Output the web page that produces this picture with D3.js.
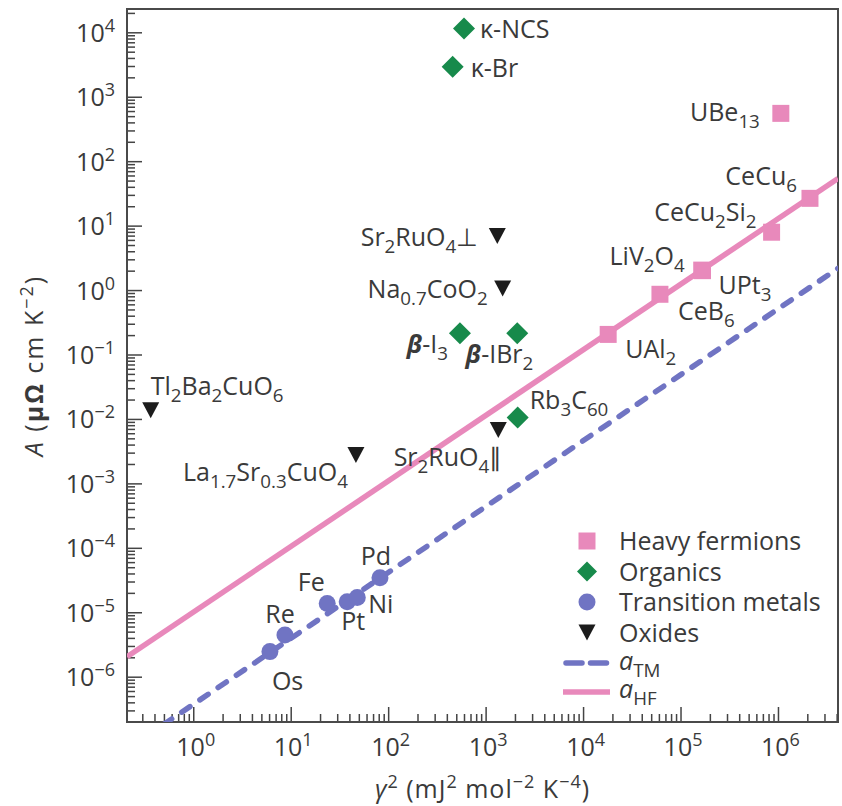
<!DOCTYPE html>
<html>
<head>
<meta charset="utf-8">
<script src="https://cdn.jsdelivr.net/npm/d3@7"></script>
<style>
  body { margin: 0; background: #fff; }
  text { font-family: "Open Sans", Lato, sans-serif; fill: #3a3a3a; }
</style>
</head>
<body>
<svg id="chart" width="842" height="806"></svg>
<script>
// ---- data (gamma^2 in mJ^2 mol^-2 K^-4, A in microOhm cm K^-2) ----
var hfNames  = ["UBe_{13}", "CeCu_{6}", "CeCu_{2}Si_{2}", "LiV_{2}O_{4}", "UPt_{3}", "CeB_{6}", "UAl_{2}"];
var hfGamma2 = [1.07e6, 2.13e6, 8.6e5, 1.65e5, 1.68e5, 6.15e4, 1.81e4];
var hfA      = [552, 26.5, 7.9, 2.04, 2.0, 0.86, 0.205];

var orgNames  = ["κ-NCS", "κ-Br", "#β#-I_{3}", "#β#-IBr_{2}", "Rb_{3}C_{60}"];
var orgGamma2 = [600, 459, 545, 2113, 2133];
var orgA      = [1.15e4, 2930, 0.213, 0.213, 0.0105];

var tmNames  = ["Os", "Re", "Fe", "Pt", "Ni", "Pd"];
var tmGamma2 = [6.12, 8.73, 23.7, 38.0, 48.2, 82.4];
var tmA      = [2.45e-6, 4.43e-6, 1.37e-5, 1.46e-5, 1.69e-5, 3.44e-5];

var oxNames  = ["Tl_{2}Ba_{2}CuO_{6}", "La_{1.7}Sr_{0.3}CuO_{4}", "Sr_{2}RuO_{4}⊥", "Na_{0.7}CoO_{2}", "Sr_{2}RuO_{4}∥"];
var oxGamma2 = [0.366, 46.7, 1318, 1496, 1349];
var oxA      = [0.0137, 2.75e-3, 6.89, 1.06, 6.72e-3];

// fitted lines (end points)
var hfLineGamma2 = [0.209, 4.13e6];
var hfLineA      = [2.04e-6, 54];
var tmLineGamma2 = [0.209, 4.13e6];
var tmLineA      = [7.5e-8, 2.17];

var xDecades = [0, 1, 2, 3, 4, 5, 6];
var yDecades = [4, 3, 2, 1, 0, -1, -2, -3, -4, -5, -6];
var legendLabels = ["Heavy fermions", "Organics", "Transition metals", "Oxides", "*a*_{TM}", "*a*_{HF}"];

// ---- layout ----
var plotL = 127, plotR = 838, plotT = 9, plotB = 722;
var pink = "#e889bb", green = "#178a4b", blue = "#7074c3", dark = "#1c1c1c";

// label offsets: [dx, dy, anchor]
var labelPos = {
  "UBe_{13}": [-21, 8, "end"], "CeCu_{6}": [-13, -13, "end"], "CeCu_{2}Si_{2}": [-15, -11, "end"],
  "LiV_{2}O_{4}": [-17, -5, "end"], "UPt_{3}": [16, 23, "start"], "CeB_{6}": [18, 26, "start"],
  "UAl_{2}": [17, 24, "start"],
  "κ-NCS": [16, 10, "start"], "κ-Br": [18, 10, "start"], "#β#-I_{3}": [-12, 20, "end"],
  "#β#-IBr_{2}": [16, 30, "end"], "Rb_{3}C_{60}": [12, -9, "start"],
  "Os": [2, 38, "start"], "Re": [-5, -12, "middle"], "Fe": [-16, -12, "middle"],
  "Pt": [6, 28, "middle"], "Ni": [11, 15, "start"], "Pd": [-4, -13, "middle"],
  "Tl_{2}Ba_{2}CuO_{6}": [0, -15, "start"], "La_{1.7}Sr_{0.3}CuO_{4}": [-8, 26, "end"],
  "Sr_{2}RuO_{4}⊥": [-19, 10, "end"], "Na_{0.7}CoO_{2}": [-15, 10, "end"],
  "Sr_{2}RuO_{4}∥": [4, 36, "end"]
};

var svg = d3.select("#chart");

var x = d3.scaleLog().domain([0.209, 4.13e6]).range([plotL, plotR]);
var y = d3.scaleLog().domain([Math.pow(10, -6.703), Math.pow(10, 4.3616)]).range([plotB, plotT]);

// rich text: _{sub} ^{sup} *italic* #bold italic#
function rich(sel, str, fs) {
  var parts = str.split(/(_\{[^}]*\}|\^\{[^}]*\}|\*[^*]*\*|#[^#]*#)/g).filter(function(s) { return s.length; });
  var shift = 0;
  parts.forEach(function(p) {
    var t = sel.append("tspan"), txt = p, size = fs, target = 0;
    if (p.indexOf("_{") === 0) { txt = p.slice(2, -1); target = fs * 0.28; size = fs * 0.75; }
    else if (p.indexOf("^{") === 0) { txt = p.slice(2, -1); target = -fs * 0.4; size = fs * 0.72; }
    else if (p[0] === "*") { txt = p.slice(1, -1); t.style("font-style", "italic"); }
    else if (p[0] === "#") { txt = p.slice(1, -1); t.style("font-style", "italic").style("font-weight", "bold"); }
    t.attr("dy", target - shift).style("font-size", size + "px").text(txt);
    shift = target;
  });
}

// clip for lines
svg.append("clipPath").attr("id", "plot")
  .append("rect").attr("x", plotL).attr("y", plotT).attr("width", plotR - plotL).attr("height", plotB - plotT);

// ---- axes ----
function minorTicks(scale) {
  var d = scale.domain(), out = [];
  for (var e = -8; e <= 8; e++) {
    for (var m = 2; m <= 9; m++) {
      var v = m * Math.pow(10, e);
      if (v >= d[0] && v <= d[1]) out.push(v);
    }
  }
  return out;
}

var xMajor = xDecades.map(function(e) { return Math.pow(10, e); });
var yMajor = yDecades.map(function(e) { return Math.pow(10, e); });

var gx = svg.append("g").attr("transform", "translate(0," + plotB + ")");
gx.call(d3.axisBottom(x).tickValues(minorTicks(x)).tickSizeInner(-8).tickSizeOuter(0).tickFormat(""));
gx.select(".domain").remove();
var gxM = svg.append("g").attr("transform", "translate(0," + plotB + ")");
gxM.call(d3.axisBottom(x).tickValues(xMajor).tickSizeInner(-15).tickSizeOuter(0).tickFormat(""));
gxM.select(".domain").remove();
gxM.selectAll(".tick text").remove();
gxM.selectAll(".tick").each(function(d, i) {
  var t = d3.select(this).append("text").attr("x", 2).attr("y", 34)
    .attr("text-anchor", "middle").attr("fill", "#3a3a3a");
  rich(t, "10^{" + String(xDecades[i]).replace("-", "−") + "}", 25);
});

var gy = svg.append("g").attr("transform", "translate(" + plotL + ",0)");
gy.call(d3.axisLeft(y).tickValues(minorTicks(y)).tickSizeInner(-8).tickSizeOuter(0).tickFormat(""));
gy.select(".domain").remove();
var gyM = svg.append("g").attr("transform", "translate(" + plotL + ",0)");
gyM.call(d3.axisLeft(y).tickValues(yMajor).tickSizeInner(-15).tickSizeOuter(0).tickFormat(""));
gyM.select(".domain").remove();
gyM.selectAll(".tick text").remove();
gyM.selectAll(".tick").each(function(d, i) {
  var t = d3.select(this).append("text").attr("x", -12).attr("y", 9)
    .attr("text-anchor", "end").attr("fill", "#3a3a3a");
  rich(t, "10^{" + String(yDecades[i]).replace("-", "−") + "}", 25);
});
svg.selectAll(".tick line").attr("stroke", "#444").attr("stroke-width", 1.5);

svg.append("rect").attr("x", plotL).attr("y", plotT).attr("width", plotR - plotL).attr("height", plotB - plotT)
  .attr("fill", "none").attr("stroke", "#4a4a4a").attr("stroke-width", 2);

// axis titles
var xt = svg.append("text").attr("x", (plotL + plotR) / 2).attr("y", 798).attr("text-anchor", "middle")
  .style("letter-spacing", "1px");
rich(xt, "*γ*^{2} (mJ^{2} mol^{−2} K^{−4})", 25);
var yt = svg.append("text").attr("transform", "translate(43," + (plotT + plotB) / 2 + ") rotate(-90)")
  .attr("text-anchor", "middle").style("letter-spacing", "2px");
rich(yt, "*A* (", 25);
yt.append("tspan").style("font-size", "25px").style("font-weight", "bold").text("μΩ");
rich(yt, " cm K^{−2})", 25);

// ---- lines ----
var line = d3.line().x(function(d) { return x(d[0]); }).y(function(d) { return y(d[1]); });
svg.append("path").datum(d3.zip(tmLineGamma2, tmLineA)).attr("d", line)
  .attr("clip-path", "url(#plot)").attr("fill", "none").attr("stroke", blue)
  .attr("stroke-width", 5.5).attr("stroke-linecap", "round").attr("stroke-dasharray", "10,12");
svg.append("path").datum(d3.zip(hfLineGamma2, hfLineA)).attr("d", line)
  .attr("clip-path", "url(#plot)").attr("fill", "none").attr("stroke", pink)
  .attr("stroke-width", 5.5);

// ---- markers ----
var square = d3.symbol().type(d3.symbolSquare).size(289);
var diamond = "M0,-11L11,0L0,11L-11,0Z";
var triDown = "M-8.5,-8L8.5,-8L0,8Z";

function series(names, gs, as, color, shape, radius) {
  var rows = d3.zip(names, gs, as);
  var g = svg.append("g");
  if (radius) {
    g.selectAll("circle").data(rows).enter().append("circle")
      .attr("cx", function(d) { return x(d[1]); }).attr("cy", function(d) { return y(d[2]); })
      .attr("r", radius).attr("fill", color);
  } else {
    g.selectAll("path").data(rows).enter().append("path")
      .attr("transform", function(d) { return "translate(" + x(d[1]) + "," + y(d[2]) + ")"; })
      .attr("d", shape).attr("fill", color);
  }
  rows.forEach(function(d) {
    var p = labelPos[d[0]];
    var t = svg.append("text").attr("x", x(d[1]) + p[0]).attr("y", y(d[2]) + p[1]).attr("text-anchor", p[2]);
    rich(t, d[0], 25);
  });
}
series(tmNames, tmGamma2, tmA, blue, null, 8.5);
series(hfNames, hfGamma2, hfA, pink, square);
series(orgNames, orgGamma2, orgA, green, diamond);
series(oxNames, oxGamma2, oxA, dark, triDown);

// ---- legend ----
var lg = svg.append("g").attr("transform", "translate(587,541)");
var rowH = 30.5;
lg.append("path").attr("d", square).attr("fill", pink);
lg.append("path").attr("transform", "translate(0," + rowH + ")").attr("d", "M0,-10L10,0L0,10L-10,0Z").attr("fill", green);
lg.append("circle").attr("cy", rowH * 2).attr("r", 8.5).attr("fill", blue);
lg.append("path").attr("transform", "translate(0," + rowH * 3 + ")").attr("d", triDown).attr("fill", dark);
lg.append("line").attr("x1", -21).attr("x2", 21).attr("y1", 122).attr("y2", 122)
  .attr("stroke", blue).attr("stroke-width", 5.5).attr("stroke-linecap", "round").attr("stroke-dasharray", "16,8.5");
lg.append("line").attr("x1", -24).attr("x2", 23).attr("y1", 151).attr("y2", 151)
  .attr("stroke", pink).attr("stroke-width", 5.5);
legendLabels.forEach(function(s, i) {
  var yy = i < 4 ? i * rowH + 9 : (i === 4 ? 129 : 157);
  var t = lg.append("text").attr("x", 32).attr("y", yy);
  rich(t, s, 25);
});
</script>
</body>
</html>
